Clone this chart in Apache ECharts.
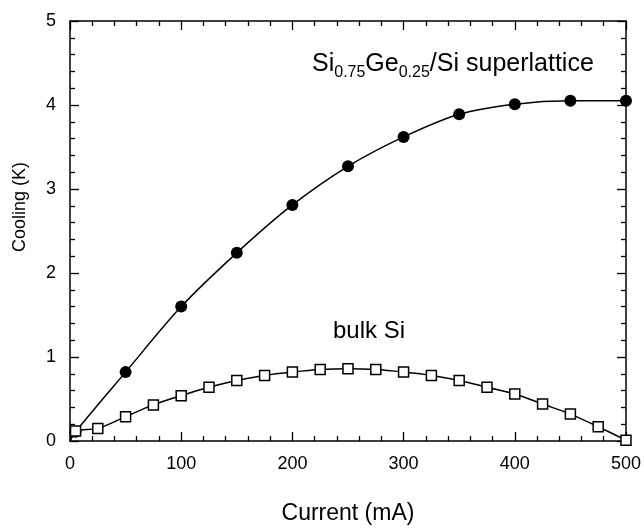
<!DOCTYPE html>
<html>
<head>
<meta charset="utf-8">
<script src="https://cdn.jsdelivr.net/npm/echarts@6/dist/echarts.min.js"></script>
<style>
  html, body { margin: 0; padding: 0; background: #fff; }
  #chart { width: 644px; height: 531px; }
</style>
</head>
<body>
<div id="chart"></div>
<script>
// superlattice (filled circles)
var slCurrent = [5, 50, 100, 150, 200, 250, 300, 350, 400, 450, 500];
var slCooling = [0.11, 0.82, 1.6, 2.24, 2.81, 3.27, 3.62, 3.89, 4.01, 4.05, 4.05];

// bulk Si (open squares)
var bulkCurrent = [5, 25, 50, 75, 100, 125, 150, 175, 200, 225, 250, 275, 300, 325, 350, 375, 400, 425, 450, 475, 500];
var bulkCooling = [0.12, 0.15, 0.29, 0.43, 0.54, 0.64, 0.72, 0.78, 0.82, 0.85, 0.86, 0.85, 0.82, 0.78, 0.72, 0.64, 0.56, 0.44, 0.32, 0.17, 0.01];

var xTicks = [0, 100, 200, 300, 400, 500];
var yTicks = [0, 1, 2, 3, 4, 5];

var chart = echarts.init(document.getElementById('chart'));

// each curve starts from the origin, without a marker there
function toData(xs, ys) {
  var out = [{ value: [0, 0], symbol: 'none' }];
  for (var i = 0; i < xs.length; i++) out.push([xs[i], ys[i]]);
  return out;
}

var font = 'Liberation Sans, Arial, sans-serif';

function axisCommon(showLabel) {
  return {
    axisLine: { show: true, onZero: false, lineStyle: { color: '#000', width: 1.5 } },
    axisTick: { show: true, inside: true, length: 9, lineStyle: { color: '#000', width: 1.3 } },
    minorTick: { show: true, splitNumber: 5, length: 5, lineStyle: { color: '#000', width: 1.3 } },
    splitLine: { show: false },
    axisLabel: { show: showLabel, color: '#000', fontSize: 18, fontFamily: font, margin: 14 }
  };
}

var xBottom = Object.assign(axisCommon(true), {
  type: 'value', position: 'bottom', min: xTicks[0], max: xTicks[xTicks.length - 1], interval: 100,
  name: 'Current (mA)', nameLocation: 'middle', nameGap: 61,
  nameTextStyle: { color: '#000', fontSize: 23, fontFamily: font }
});
var xTop = Object.assign(axisCommon(false), {
  type: 'value', position: 'top', min: 0, max: 500, interval: 100
});
var yLeft = Object.assign(axisCommon(true), {
  type: 'value', position: 'left', min: yTicks[0], max: yTicks[yTicks.length - 1], interval: 1
});
var yRight = Object.assign(axisCommon(false), {
  type: 'value', position: 'right', min: 0, max: 5, interval: 1
});

chart.setOption({
  animation: false,
  backgroundColor: '#fff',
  grid: { left: 70, right: 12, top: 21, bottom: 90 },
  xAxis: [xBottom, xTop],
  yAxis: [yLeft, yRight],
  graphic: [
    {
      type: 'text', x: 20, y: 207, rotation: Math.PI / 2,
      style: { text: 'Cooling (K)', fontSize: 18, fontFamily: font, fill: '#000', align: 'center', verticalAlign: 'middle' }
    },
    {
      type: 'text', left: 312, top: 52,
      style: {
        text: '{b|Si}{s|0.75}{b|Ge}{s|0.25}{b|/Si superlattice}',
        rich: {
          b: { fontSize: 25, fontFamily: font, fill: '#000', verticalAlign: 'bottom' },
          s: { fontSize: 16, fontFamily: font, fill: '#000', verticalAlign: 'bottom', padding: [0, 0, -4, 0] }
        }
      }
    },
    {
      type: 'text', left: 333, top: 319,
      style: { text: 'bulk Si', fontSize: 24, fontFamily: font, fill: '#000' }
    }
  ],
  series: [
    {
      name: 'Si0.75Ge0.25/Si superlattice',
      type: 'line',
      smooth: 0.3,
      data: toData(slCurrent, slCooling),
      symbol: 'circle',
      symbolSize: 12,
      itemStyle: { color: '#000' },
      lineStyle: { color: '#000', width: 1.5 }
    },
    {
      name: 'bulk Si',
      type: 'line',
      smooth: 0.3,
      data: toData(bulkCurrent, bulkCooling),
      symbol: 'rect',
      symbolSize: 10,
      itemStyle: { color: '#fff', borderColor: '#000', borderWidth: 1.5 },
      lineStyle: { color: '#000', width: 1.5 }
    }
  ]
});
</script>
</body>
</html>
